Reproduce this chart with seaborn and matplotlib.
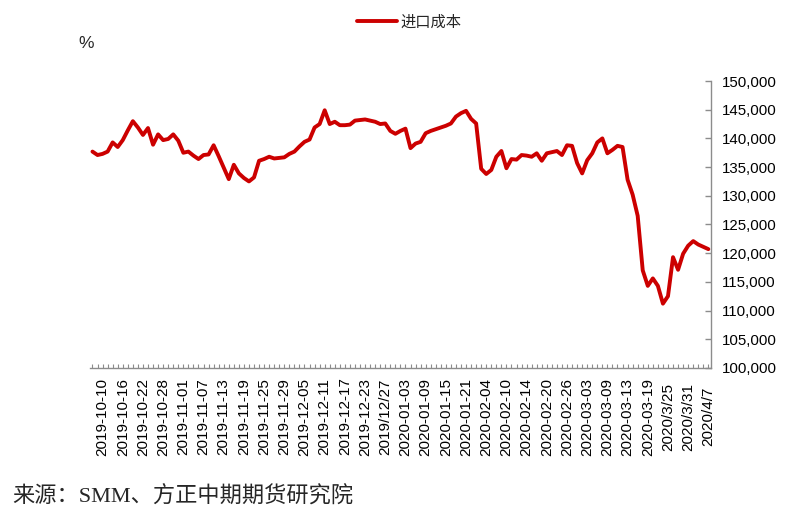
import matplotlib
matplotlib.use('Agg')
import matplotlib.pyplot as plt
import seaborn as sns
import pandas as pd
from matplotlib.ticker import FuncFormatter, FixedLocator, MultipleLocator

# import cost, one value per trading day, 2019-10-08 .. 2020-04-07
import_cost = [
    137700, 137100, 137300, 137700, 139300, 138500, 139700, 141400, 143000, 141900,
    140600, 141800, 138900, 140700, 139700, 139900, 140700, 139600, 137500, 137700,
    137000, 136400, 137100, 137200, 138800, 136900, 134900, 132900, 135400, 133900,
    133100, 132500, 133200, 136100, 136400, 136800, 136500, 136600, 136700, 137300,
    137700, 138600, 139400, 139800, 141900, 142500, 144900, 142500, 142900, 142300,
    142300, 142400, 143100, 143200, 143300, 143100, 142900, 142500, 142600, 141300,
    140800, 141300, 141700, 138300, 139100, 139400, 140900, 141300, 141600, 141900,
    142200, 142600, 143800, 144400, 144800, 143400, 142600, 134700, 133800, 134500,
    136800, 137800, 134800, 136400, 136300, 137100, 137000, 136800, 137400, 136100,
    137400, 137600, 137800, 137100, 138800, 138700, 135700, 133900, 136200, 137400,
    139300, 140000, 137400, 138000, 138700, 138500, 132800, 130200, 126500, 117000,
    114300, 115600, 114300, 111200, 112500, 119300, 117100, 119900, 121300, 122100,
    121500, 121100, 120700,
]

# labelled dates, every 4th trading day starting at index 2
date_labels = [
    '2019-10-10', '2019-10-16', '2019-10-22', '2019-10-28', '2019-11-01',
    '2019-11-07', '2019-11-13', '2019-11-19', '2019-11-25', '2019-11-29',
    '2019-12-05', '2019-12-11', '2019-12-17', '2019-12-23', '2019/12/27',
    '2020-01-03', '2020-01-09', '2020-01-15', '2020-01-21', '2020-02-04',
    '2020-02-10', '2020-02-14', '2020-02-20', '2020-02-26', '2020-03-03',
    '2020-03-09', '2020-03-13', '2020-03-19', '2020/3/25', '2020/3/31',
    '2020/4/7',
]
label_pos = [2 + 4 * k for k in range(len(date_labels))]

df = pd.DataFrame({'idx': range(len(import_cost)), 'cost': import_cost})

sns.set_theme(style='white')
plt.rcParams['font.family'] = ['Liberation Sans', 'Noto Sans CJK SC', 'DejaVu Sans']

fig = plt.figure(figsize=(7.89, 5.16), dpi=100)
ax = fig.add_axes([0.114, 0.287, 0.787, 0.556])

red = '#CC0000'
sns.lineplot(data=df, x='idx', y='cost', ax=ax, color=red, linewidth=2.8, label='进口成本')

ax.set_xlim(-0.5, len(import_cost) - 0.5)
ax.set_ylim(100000, 150000)

spine_col = '#8C8C8C'
for s in ['left', 'top']:
    ax.spines[s].set_visible(False)
for s in ['right', 'bottom']:
    ax.spines[s].set_color(spine_col)
    ax.spines[s].set_linewidth(1.0)

# y axis on the right
ax.yaxis.tick_right()
ax.yaxis.set_major_locator(MultipleLocator(5000))
ax.yaxis.set_major_formatter(FuncFormatter(lambda v, p: f'{int(v):,}'))
ax.tick_params(axis='y', direction='in', length=4, width=1, color=spine_col,
               labelsize=10.8, pad=8, labelcolor='#000000')

# x axis: small tick at every day, labels every 4th
ax.xaxis.set_major_locator(FixedLocator(label_pos))
ax.xaxis.set_minor_locator(MultipleLocator(1))
ax.set_xticklabels(date_labels, rotation=90, ha='center', va='center')
ax.tick_params(axis='x', which='both', direction='in', length=3, width=0.8, color=spine_col,
               bottom=True, labelsize=11, pad=35, labelcolor='#000000')
ax.set_xlabel('')
ax.set_ylabel('')
ax.grid(False)

leg = ax.legend(loc='center', bbox_to_anchor=(0.519, 0.957), bbox_transform=fig.transFigure,
                frameon=False, fontsize=11, handlelength=2.6, handletextpad=0.25)

fig.text(86 / 789, 1 - 43 / 516, '%', fontsize=12.5, ha='center', va='center')
fig.text(12 / 789, 1 - 497 / 516, '来源：SMM、方正中期期货研究院', fontsize=16,
         family=['Liberation Serif', 'Noto Sans CJK SC'], ha='left', va='center')

fig.savefig('out.png', dpi=100)
